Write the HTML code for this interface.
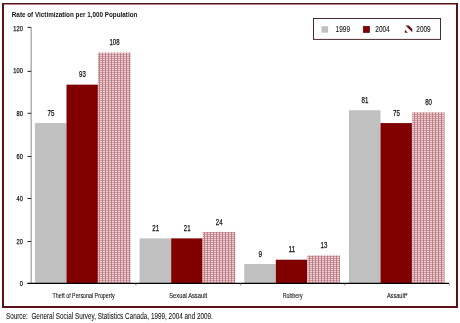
<!DOCTYPE html>
<html><head><meta charset="utf-8"><style>
html,body{margin:0;padding:0;background:#fff;}
body{width:460px;height:323px;overflow:hidden;}
svg{display:block;font-family:"Liberation Sans", sans-serif;will-change:transform;}
</style></head><body>
<svg width="460" height="323" viewBox="0 0 460 323">
<defs>
<pattern id="hatch" patternUnits="userSpaceOnUse" width="3" height="2">
<rect width="3" height="2" fill="#f2d0d2"/>
<rect x="0" y="0" width="3" height="1" fill="#cc9aa0"/>
<rect x="0" y="0" width="1" height="2" fill="#b98088"/>
</pattern>
</defs>
<rect width="460" height="323" fill="#fff"/>
<path d="M2 3H458V308H2Z M4 4.6V306H456V4.6Z" fill="#5c1017" fill-rule="evenodd"/>
<text x="11.80" y="17.30" font-size="7.5" font-weight="bold" text-anchor="start" textLength="125.60" lengthAdjust="spacingAndGlyphs" fill="#111" stroke="#111" stroke-width="0">Rate of Victimization per 1,000 Population</text>
<line x1="31.2" y1="27.4" x2="31.2" y2="283.45" stroke="#aaa" stroke-width="1.4"/>
<text x="22.80" y="286.10" font-size="8.0" font-weight="normal" text-anchor="end" textLength="3.15" lengthAdjust="spacingAndGlyphs" fill="#111" stroke="#111" stroke-width="0.25">0</text>
<line x1="27.6" y1="241.50" x2="31.2" y2="241.50" stroke="#222" stroke-width="1"/>
<text x="22.80" y="243.95" font-size="8.0" font-weight="normal" text-anchor="end" textLength="6.30" lengthAdjust="spacingAndGlyphs" fill="#111" stroke="#111" stroke-width="0.25">20</text>
<line x1="27.6" y1="198.50" x2="31.2" y2="198.50" stroke="#222" stroke-width="1"/>
<text x="22.80" y="200.95" font-size="8.0" font-weight="normal" text-anchor="end" textLength="6.30" lengthAdjust="spacingAndGlyphs" fill="#111" stroke="#111" stroke-width="0.25">40</text>
<line x1="27.6" y1="156.50" x2="31.2" y2="156.50" stroke="#222" stroke-width="1"/>
<text x="22.80" y="159.10" font-size="8.0" font-weight="normal" text-anchor="end" textLength="6.30" lengthAdjust="spacingAndGlyphs" fill="#111" stroke="#111" stroke-width="0.25">60</text>
<line x1="27.6" y1="113.30" x2="31.2" y2="113.30" stroke="#222" stroke-width="1"/>
<text x="22.80" y="115.85" font-size="8.0" font-weight="normal" text-anchor="end" textLength="6.30" lengthAdjust="spacingAndGlyphs" fill="#111" stroke="#111" stroke-width="0.25">80</text>
<line x1="27.6" y1="71.40" x2="31.2" y2="71.40" stroke="#222" stroke-width="1"/>
<text x="22.80" y="72.95" font-size="8.0" font-weight="normal" text-anchor="end" textLength="9.45" lengthAdjust="spacingAndGlyphs" fill="#111" stroke="#111" stroke-width="0.25">100</text>
<line x1="27.6" y1="27.40" x2="31.2" y2="27.40" stroke="#222" stroke-width="1"/>
<text x="22.80" y="30.80" font-size="8.0" font-weight="normal" text-anchor="end" textLength="9.45" lengthAdjust="spacingAndGlyphs" fill="#111" stroke="#111" stroke-width="0.25">120</text>
<rect x="34.90" y="123.08" width="31.60" height="160.53" fill="#c0c0c0"/>
<text x="51.00" y="115.73" font-size="9" font-weight="normal" text-anchor="middle" textLength="6.80" lengthAdjust="spacingAndGlyphs" fill="#111" stroke="#111" stroke-width="0.25">75</text>
<rect x="66.50" y="84.65" width="31.40" height="198.96" fill="#800000"/>
<text x="82.50" y="77.30" font-size="9" font-weight="normal" text-anchor="middle" textLength="6.80" lengthAdjust="spacingAndGlyphs" fill="#111" stroke="#111" stroke-width="0.25">93</text>
<rect x="97.90" y="52.62" width="32.70" height="230.98" fill="url(#hatch)"/>
<text x="114.55" y="45.27" font-size="9" font-weight="normal" text-anchor="middle" textLength="10.05" lengthAdjust="spacingAndGlyphs" fill="#111" stroke="#111" stroke-width="0.25">108</text>
<rect x="139.57" y="238.37" width="31.60" height="45.24" fill="#c0c0c0"/>
<text x="155.67" y="231.02" font-size="9" font-weight="normal" text-anchor="middle" textLength="6.80" lengthAdjust="spacingAndGlyphs" fill="#111" stroke="#111" stroke-width="0.25">21</text>
<rect x="171.17" y="238.37" width="31.40" height="45.24" fill="#800000"/>
<text x="187.17" y="231.02" font-size="9" font-weight="normal" text-anchor="middle" textLength="6.80" lengthAdjust="spacingAndGlyphs" fill="#111" stroke="#111" stroke-width="0.25">21</text>
<rect x="202.57" y="231.96" width="32.70" height="51.64" fill="url(#hatch)"/>
<text x="219.22" y="224.61" font-size="9" font-weight="normal" text-anchor="middle" textLength="6.80" lengthAdjust="spacingAndGlyphs" fill="#111" stroke="#111" stroke-width="0.25">24</text>
<rect x="244.24" y="263.99" width="31.60" height="19.62" fill="#c0c0c0"/>
<text x="260.34" y="256.63" font-size="9" font-weight="normal" text-anchor="middle" textLength="3.55" lengthAdjust="spacingAndGlyphs" fill="#111" stroke="#111" stroke-width="0.25">9</text>
<rect x="275.84" y="259.71" width="31.40" height="23.89" fill="#800000"/>
<text x="291.84" y="252.36" font-size="9" font-weight="normal" text-anchor="middle" textLength="6.80" lengthAdjust="spacingAndGlyphs" fill="#111" stroke="#111" stroke-width="0.25">11</text>
<rect x="307.24" y="255.44" width="32.70" height="28.16" fill="url(#hatch)"/>
<text x="323.89" y="248.09" font-size="9" font-weight="normal" text-anchor="middle" textLength="6.80" lengthAdjust="spacingAndGlyphs" fill="#111" stroke="#111" stroke-width="0.25">13</text>
<rect x="348.91" y="110.27" width="31.60" height="173.34" fill="#c0c0c0"/>
<text x="365.01" y="102.92" font-size="9" font-weight="normal" text-anchor="middle" textLength="6.80" lengthAdjust="spacingAndGlyphs" fill="#111" stroke="#111" stroke-width="0.25">81</text>
<rect x="380.51" y="123.08" width="31.40" height="160.53" fill="#800000"/>
<text x="396.51" y="115.73" font-size="9" font-weight="normal" text-anchor="middle" textLength="6.80" lengthAdjust="spacingAndGlyphs" fill="#111" stroke="#111" stroke-width="0.25">75</text>
<rect x="411.91" y="112.40" width="32.70" height="171.20" fill="url(#hatch)"/>
<text x="428.56" y="105.05" font-size="9" font-weight="normal" text-anchor="middle" textLength="6.80" lengthAdjust="spacingAndGlyphs" fill="#111" stroke="#111" stroke-width="0.25">80</text>
<line x1="27.3" y1="283.45" x2="449.0" y2="283.45" stroke="#000" stroke-width="1.3"/>
<line x1="135.90" y1="283.45" x2="135.90" y2="285.45" stroke="#666" stroke-width="0.8"/>
<line x1="240.40" y1="283.45" x2="240.40" y2="285.45" stroke="#666" stroke-width="0.8"/>
<line x1="344.90" y1="283.45" x2="344.90" y2="285.45" stroke="#666" stroke-width="0.8"/>
<line x1="449.40" y1="283.45" x2="449.40" y2="285.45" stroke="#666" stroke-width="0.8"/>
<text x="83.65" y="298.40" font-size="7" font-weight="normal" text-anchor="middle" textLength="62.10" lengthAdjust="spacingAndGlyphs" fill="#111" stroke="#111" stroke-width="0.1">Theft of Personal Property</text>
<text x="188.15" y="298.40" font-size="7" font-weight="normal" text-anchor="middle" textLength="37.80" lengthAdjust="spacingAndGlyphs" fill="#111" stroke="#111" stroke-width="0.1">Sexual Assault</text>
<text x="292.65" y="298.40" font-size="7" font-weight="normal" text-anchor="middle" textLength="19.80" lengthAdjust="spacingAndGlyphs" fill="#111" stroke="#111" stroke-width="0.1">Robbery</text>
<text x="397.15" y="298.40" font-size="7" font-weight="normal" text-anchor="middle" textLength="20.50" lengthAdjust="spacingAndGlyphs" fill="#111" stroke="#111" stroke-width="0.1">Assault*</text>
<rect x="313.5" y="18.5" width="127" height="20.9" fill="#fff" stroke="#4a2a2e" stroke-width="1"/>
<rect x="321.5" y="26.2" width="6.6" height="6.5" fill="#c0c0c0"/>
<rect x="363.2" y="26.2" width="6.5" height="6.5" fill="#800000" stroke="#5a0000" stroke-width="0.5"/>
<polygon points="405.6,25.5 408.8,25.5 412.3,29 412.3,32.2" fill="#6a0810"/>
<polygon points="404.9,29.8 404.9,32.7 407.9,32.7" fill="#6a0810"/>
<text x="335.60" y="31.90" font-size="8.4" font-weight="normal" text-anchor="start" textLength="14.40" lengthAdjust="spacingAndGlyphs" fill="#111" stroke="#111" stroke-width="0.1">1999</text>
<text x="375.30" y="31.90" font-size="8.4" font-weight="normal" text-anchor="start" textLength="14.40" lengthAdjust="spacingAndGlyphs" fill="#111" stroke="#111" stroke-width="0.1">2004</text>
<text x="416.30" y="31.90" font-size="8.4" font-weight="normal" text-anchor="start" textLength="14.40" lengthAdjust="spacingAndGlyphs" fill="#111" stroke="#111" stroke-width="0.1">2009</text>
<text x="5.90" y="319.20" font-size="8.2" font-weight="normal" text-anchor="start" textLength="207.00" lengthAdjust="spacingAndGlyphs" fill="#111" stroke="#111" stroke-width="0.05">Source:&#160; General Social Survey, Statistics Canada, 1999, 2004 and 2009.</text>
</svg>
</body></html>
